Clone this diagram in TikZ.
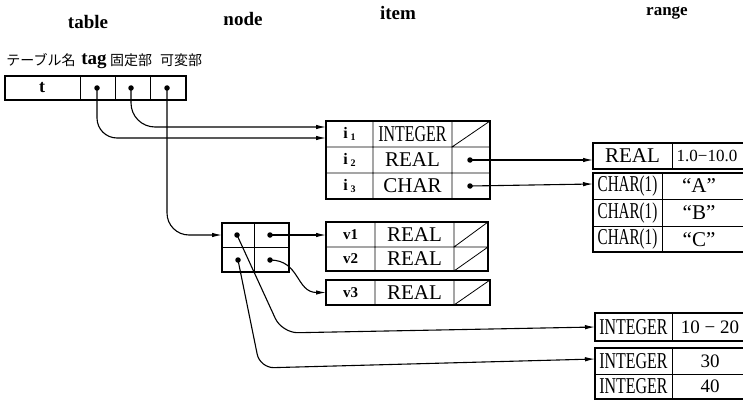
\documentclass[tikz,border=0pt]{standalone}
\usepackage{fontspec}
\usepackage{graphicx}
\setmainfont{Liberation Serif}
\newfontfamily\cjk{Noto Sans CJK JP}
\usetikzlibrary{arrows.meta,calc}
\newcommand{\cnd}[2]{\scalebox{#1}[1.08]{#2}}
\begin{document}
\begin{tikzpicture}[x=1pt,y=-1pt,
  box/.style={draw,line width=1.6pt,anchor=north west,inner sep=0pt,outer sep=0pt},
  sep/.style={line width=0.8pt},
  conn/.style={line width=1.1pt,-{Latex[length=10pt,width=4.5pt]}},
  dot/.style={fill,circle,inner sep=0pt,minimum size=5.5pt},
  hdr/.style={font=\fontsize{19}{19}\selectfont\bfseries,anchor=base,inner sep=0pt},
  jp/.style={font=\cjk\fontsize{14}{14}\selectfont,anchor=base,inner sep=0pt},
  big/.style={font=\fontsize{21}{21}\selectfont},
  mid/.style={font=\fontsize{19}{19}\selectfont},
  lab/.style={font=\fontsize{16}{16}\selectfont\bfseries},
  vlab/.style={font=\fontsize{15}{15}\selectfont\bfseries}
]
\useasboundingbox (0,0) rectangle (743,401);
\clip (0,0) rectangle (743,401);

% column headers
\node[hdr] (htable) at (88,29) {table};
\node[hdr] (hnode) at (243,26) {node};
\node[hdr] (hitem) at (398,20) {item};
\node[hdr,font=\fontsize{17}{17}\selectfont\bfseries] (hrange) at (667,15.5) {range};

% table header labels
\node[jp] (jname) at (41,66) {テーブル名};
\node[hdr] (jtag) at (94,65) {tag};
\node[jp] (jfix) at (131,66) {固定部};
\node[jp] (jvar) at (181,66) {可変部};

% table
\node[box,minimum width=181pt,minimum height=24pt] (tbl) at (5,76) {};
\draw[sep] (80,76) -- (80,100) (115,76) -- (115,100) (150,76) -- (150,100);
\node[lab,font=\fontsize{18}{18}\selectfont\bfseries] (tt) at (42,88) {t};
\node[dot] (dtag) at (97,88) {};
\node[dot] (dfix) at (131,88) {};
\node[dot] (dvar) at (167,88) {};

% item table
\node[box,minimum width=164pt,minimum height=78pt] (itm) at (326,121) {};
\draw[sep] (373,121) -- (373,199) (452,121) -- (452,199)
           (326,147) -- (490,147) (326,173) -- (490,173)
           (452,147) -- (490,121);
\node[lab] (i1) at (349.5,134) {i\,\raisebox{-2pt}{\fontsize{10}{10}\selectfont 1}};
\node[lab] (i2) at (349.5,160) {i\,\raisebox{-2pt}{\fontsize{10}{10}\selectfont 2}};
\node[lab] (i3) at (349.5,186) {i\,\raisebox{-2pt}{\fontsize{10}{10}\selectfont 3}};
\node[big] (tint) at (412.5,134) {\cnd{0.76}{INTEGER}};
\node[big] (treal) at (412.5,160) {REAL};
\node[big] (tchar) at (412.5,186) {CHAR};
\node[dot] (di2) at (470,160) {};
\node[dot] (di3) at (470,186) {};

% node box
\node[box,minimum width=67pt,minimum height=49pt] (nd) at (222,223) {};
\draw[sep] (254,223) -- (254,272) (222,247) -- (289,247);
\node[dot] (ntl) at (237,235) {};
\node[dot] (ntr) at (270,235) {};
\node[dot] (nbl) at (238,260) {};
\node[dot] (nbr) at (270,260) {};

% v1/v2 table
\node[box,minimum width=162pt,minimum height=49pt] (v12) at (326,222) {};
\draw[sep] (375,222) -- (375,271) (454,222) -- (454,271) (326,247) -- (488,247)
           (454,247) -- (488,222) (454,271) -- (488,247);
\node[vlab] (v1) at (350.5,235) {v1};
\node[vlab] (v2) at (350.5,259) {v2};
\node[big] (vr1) at (414.5,235) {REAL};
\node[big] (vr2) at (414.5,259) {REAL};

% v3 table
\node[box,minimum width=164pt,minimum height=25pt] (v3b) at (326,280) {};
\draw[sep] (375,280) -- (375,305) (454,280) -- (454,305) (454,305) -- (490,280);
\node[vlab] (v3) at (350.5,292.5) {v3};
\node[big] (vr3) at (414.5,292.5) {REAL};

% range: REAL
\node[box,minimum width=170pt,minimum height=26pt] (rreal) at (593,143) {};
\draw[sep] (672,143) -- (672,169);
\node[big] (rrt) at (632.5,156) {REAL};
\node[font=\fontsize{17}{17}\selectfont] (rrv) at (707,156) {1.0−10.0};

% range: CHAR
\node[box,minimum width=170pt,minimum height=79pt] (rchar) at (593,173) {};
\draw[sep] (662,173) -- (662,252) (593,199.5) -- (763,199.5) (593,226) -- (763,226);
\node[big] (c1) at (627.5,186) {\cnd{0.72}{CHAR(1)}};
\node[big] (c2) at (627.5,213) {\cnd{0.72}{CHAR(1)}};
\node[big] (c3) at (627.5,239.5) {\cnd{0.72}{CHAR(1)}};
\node[big] (ca) at (699,186) {“A”};
\node[big] (cb) at (699,213) {“B”};
\node[big] (cc) at (699,239.5) {“C”};

% range: INTEGER 10-20
\node[box,minimum width=170pt,minimum height=28pt] (rint1) at (595,313) {};
\draw[sep] (672,313) -- (672,341);
\node[big] (it1) at (633.5,327) {\cnd{0.76}{INTEGER}};
\node[mid] (iv1) at (710,327) {10 − 20};

% range: INTEGER 30 / 40
\node[box,minimum width=170pt,minimum height=51pt] (rint2) at (595,348) {};
\draw[sep] (672,348) -- (672,399) (595,374) -- (765,374);
\node[big] (it2) at (633.5,361) {\cnd{0.76}{INTEGER}};
\node[big] (it3) at (633.5,386.5) {\cnd{0.76}{INTEGER}};
\node[mid] (iv2) at (710,361) {30};
\node[mid] (iv3) at (710,386.5) {40};

% connectors
\draw[conn,rounded corners=20pt] (dtag.center) |- ($(itm.north west)+(0,17)$);
\draw[conn,rounded corners=24pt] (dfix.center) |- ($(itm.north west)+(0,6)$);
\draw[conn,rounded corners=22pt] (dvar.center) |- (nd.west |- ntl.center);
\draw[conn] (ntr.center) -- (v12.west |- ntr.center);
\draw[conn] (nbr.center) .. controls (300,260) and (296,292.5) .. (v3b.west);
\draw[conn,rounded corners=16pt] (ntl.center) -- (282,333) -- (rint1.west);
\draw[conn,rounded corners=14pt] (nbl.center) -- (260,368) -- ($(rint2.north west)+(0,11)$);
\draw[conn] (di2.center) -- (rreal.west |- di2.center);
\draw[conn] (di3.center) -- ($(rchar.north west)+(0,11)$);
\end{tikzpicture}
\end{document}
